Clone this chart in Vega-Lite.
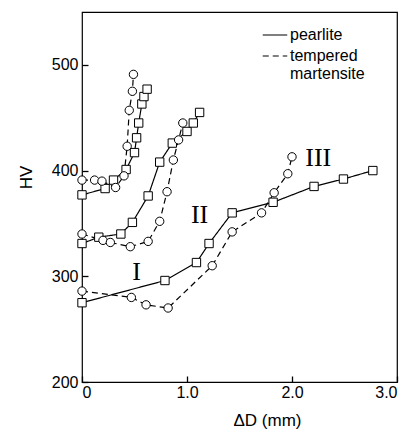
{
  "$schema": "https://vega.github.io/schema/vega-lite/v6.json",
  "width": 315,
  "height": 370,
  "autosize": "none",
  "padding": {"left": 82, "top": 12, "right": 20, "bottom": 50},
  "background": "white",
  "config": {
    "view": {"stroke": "black", "strokeWidth": 1.2},
    "font": "Liberation Sans",
    "axis": {"grid": false, "domain": false, "ticks": true, "tickColor": "black", "labelColor": "black", "titleColor": "black", "labelFont": "Liberation Sans", "titleFont": "Liberation Sans", "titleFontWeight": "normal", "labelFontSize": 16, "titleFontSize": 17, "tickSize": -6, "tickWidth": 1.3}
  },
  "datasets": {
    "curves": [
      {"g": "I", "material": "pearlite", "i": 0, "dd": 0, "hv": 275},
      {"g": "I", "material": "pearlite", "i": 1, "dd": 0.79, "hv": 296},
      {"g": "I", "material": "pearlite", "i": 2, "dd": 1.09, "hv": 313},
      {"g": "I", "material": "pearlite", "i": 3, "dd": 1.21, "hv": 331},
      {"g": "I", "material": "pearlite", "i": 4, "dd": 1.43, "hv": 360},
      {"g": "I", "material": "pearlite", "i": 5, "dd": 1.82, "hv": 370},
      {"g": "I", "material": "pearlite", "i": 6, "dd": 2.21, "hv": 385},
      {"g": "I", "material": "pearlite", "i": 7, "dd": 2.49, "hv": 392},
      {"g": "I", "material": "pearlite", "i": 8, "dd": 2.77, "hv": 400},
      {"g": "I", "material": "tempered martensite", "i": 0, "dd": 0, "hv": 286},
      {"g": "I", "material": "tempered martensite", "i": 1, "dd": 0.47, "hv": 280},
      {"g": "I", "material": "tempered martensite", "i": 2, "dd": 0.61, "hv": 273},
      {"g": "I", "material": "tempered martensite", "i": 3, "dd": 0.82, "hv": 270},
      {"g": "I", "material": "tempered martensite", "i": 4, "dd": 1.24, "hv": 310},
      {"g": "I", "material": "tempered martensite", "i": 5, "dd": 1.43, "hv": 342},
      {"g": "I", "material": "tempered martensite", "i": 6, "dd": 1.71, "hv": 360},
      {"g": "I", "material": "tempered martensite", "i": 7, "dd": 1.83, "hv": 379},
      {"g": "I", "material": "tempered martensite", "i": 8, "dd": 1.96, "hv": 397},
      {"g": "I", "material": "tempered martensite", "i": 9, "dd": 2.0, "hv": 413},
      {"g": "II", "material": "pearlite", "i": 0, "dd": 0, "hv": 331},
      {"g": "II", "material": "pearlite", "i": 1, "dd": 0.16, "hv": 337},
      {"g": "II", "material": "pearlite", "i": 2, "dd": 0.37, "hv": 340},
      {"g": "II", "material": "pearlite", "i": 3, "dd": 0.48, "hv": 351},
      {"g": "II", "material": "pearlite", "i": 4, "dd": 0.63, "hv": 376},
      {"g": "II", "material": "pearlite", "i": 5, "dd": 0.74, "hv": 408},
      {"g": "II", "material": "pearlite", "i": 6, "dd": 0.86, "hv": 426},
      {"g": "II", "material": "pearlite", "i": 7, "dd": 1.0, "hv": 437},
      {"g": "II", "material": "pearlite", "i": 8, "dd": 1.06, "hv": 445},
      {"g": "II", "material": "pearlite", "i": 9, "dd": 1.12, "hv": 455},
      {"g": "II", "material": "tempered martensite", "i": 0, "dd": 0, "hv": 340},
      {"g": "II", "material": "tempered martensite", "i": 1, "dd": 0.2, "hv": 334},
      {"g": "II", "material": "tempered martensite", "i": 2, "dd": 0.27, "hv": 332},
      {"g": "II", "material": "tempered martensite", "i": 3, "dd": 0.46, "hv": 328},
      {"g": "II", "material": "tempered martensite", "i": 4, "dd": 0.63, "hv": 333},
      {"g": "II", "material": "tempered martensite", "i": 5, "dd": 0.74, "hv": 352},
      {"g": "II", "material": "tempered martensite", "i": 6, "dd": 0.81, "hv": 380},
      {"g": "II", "material": "tempered martensite", "i": 7, "dd": 0.87, "hv": 410},
      {"g": "II", "material": "tempered martensite", "i": 8, "dd": 0.92, "hv": 429},
      {"g": "II", "material": "tempered martensite", "i": 9, "dd": 0.96, "hv": 445},
      {"g": "III", "material": "pearlite", "i": 0, "dd": 0, "hv": 377},
      {"g": "III", "material": "pearlite", "i": 1, "dd": 0.22, "hv": 383},
      {"g": "III", "material": "pearlite", "i": 2, "dd": 0.3, "hv": 391},
      {"g": "III", "material": "pearlite", "i": 3, "dd": 0.42, "hv": 401},
      {"g": "III", "material": "pearlite", "i": 4, "dd": 0.5, "hv": 417},
      {"g": "III", "material": "pearlite", "i": 5, "dd": 0.52, "hv": 431},
      {"g": "III", "material": "pearlite", "i": 6, "dd": 0.54, "hv": 445},
      {"g": "III", "material": "pearlite", "i": 7, "dd": 0.57, "hv": 463},
      {"g": "III", "material": "pearlite", "i": 8, "dd": 0.59, "hv": 470},
      {"g": "III", "material": "pearlite", "i": 9, "dd": 0.62, "hv": 477},
      {"g": "III", "material": "tempered martensite", "i": 0, "dd": 0, "hv": 391},
      {"g": "III", "material": "tempered martensite", "i": 1, "dd": 0.12, "hv": 391},
      {"g": "III", "material": "tempered martensite", "i": 2, "dd": 0.19, "hv": 390},
      {"g": "III", "material": "tempered martensite", "i": 3, "dd": 0.32, "hv": 384},
      {"g": "III", "material": "tempered martensite", "i": 4, "dd": 0.4, "hv": 395},
      {"g": "III", "material": "tempered martensite", "i": 5, "dd": 0.43, "hv": 423},
      {"g": "III", "material": "tempered martensite", "i": 6, "dd": 0.45, "hv": 457},
      {"g": "III", "material": "tempered martensite", "i": 7, "dd": 0.48, "hv": 475},
      {"g": "III", "material": "tempered martensite", "i": 8, "dd": 0.49, "hv": 491}
    ],
    "labels": [
      {"label": "I", "dd": 0.52, "hv": 304},
      {"label": "II", "dd": 1.12, "hv": 358},
      {"label": "III", "dd": 2.25, "hv": 412}
    ]
  },
  "layer": [
    {
      "data": {"name": "curves"},
      "mark": {"type": "line", "color": "black", "strokeWidth": 1.2},
      "encoding": {
        "x": {"field": "dd", "type": "quantitative", "scale": {"domain": [0, 3]}, "axis": {"values": [0, 1, 2, 3], "labelExpr": "datum.value == 0 ? '0' : format(datum.value, '.1f')", "title": "ΔD (mm)", "labelPadding": 8, "titlePadding": 12, "titleX": 185}},
        "y": {"field": "hv", "type": "quantitative", "scale": {"domain": [200, 550]}, "axis": {"values": [200, 300, 400, 500], "title": "HV", "labelPadding": 10, "titlePadding": 16, "titleY": 165}},
        "detail": {"field": "g"},
        "order": {"field": "i"},
        "strokeDash": {"field": "material", "type": "nominal", "scale": {"domain": ["pearlite", "tempered martensite"], "range": [[1, 0], [6, 4]]}, "legend": {"title": null, "orient": "none", "legendX": 180, "legendY": 10, "symbolType": "stroke", "symbolSize": 600, "symbolStrokeWidth": 1.2, "symbolStrokeColor": "black", "labelFontSize": 16, "labelFont": "Liberation Sans", "labelColor": "black", "rowPadding": 0, "labelOffset": 2, "labelExpr": "datum.label == 'tempered martensite' ? ['tempered', 'martensite'] : datum.label"}}
      }
    },
    {
      "data": {"name": "curves"},
      "transform": [{"filter": "datum.material == 'pearlite'"}],
      "mark": {"type": "point", "shape": "square", "filled": true, "fill": "white", "stroke": "black", "strokeWidth": 1, "size": 70, "opacity": 1},
      "encoding": {
        "x": {"field": "dd", "type": "quantitative"},
        "y": {"field": "hv", "type": "quantitative"}
      }
    },
    {
      "data": {"name": "curves"},
      "transform": [{"filter": "datum.material == 'tempered martensite'"}],
      "mark": {"type": "point", "shape": "circle", "filled": true, "fill": "white", "stroke": "black", "strokeWidth": 1, "size": 70, "opacity": 1},
      "encoding": {
        "x": {"field": "dd", "type": "quantitative"},
        "y": {"field": "hv", "type": "quantitative"}
      }
    },
    {
      "data": {"name": "labels"},
      "mark": {"type": "text", "font": "Liberation Serif", "fontSize": 26, "color": "black"},
      "encoding": {
        "x": {"field": "dd", "type": "quantitative"},
        "y": {"field": "hv", "type": "quantitative"},
        "text": {"field": "label"}
      }
    }
  ]
}
